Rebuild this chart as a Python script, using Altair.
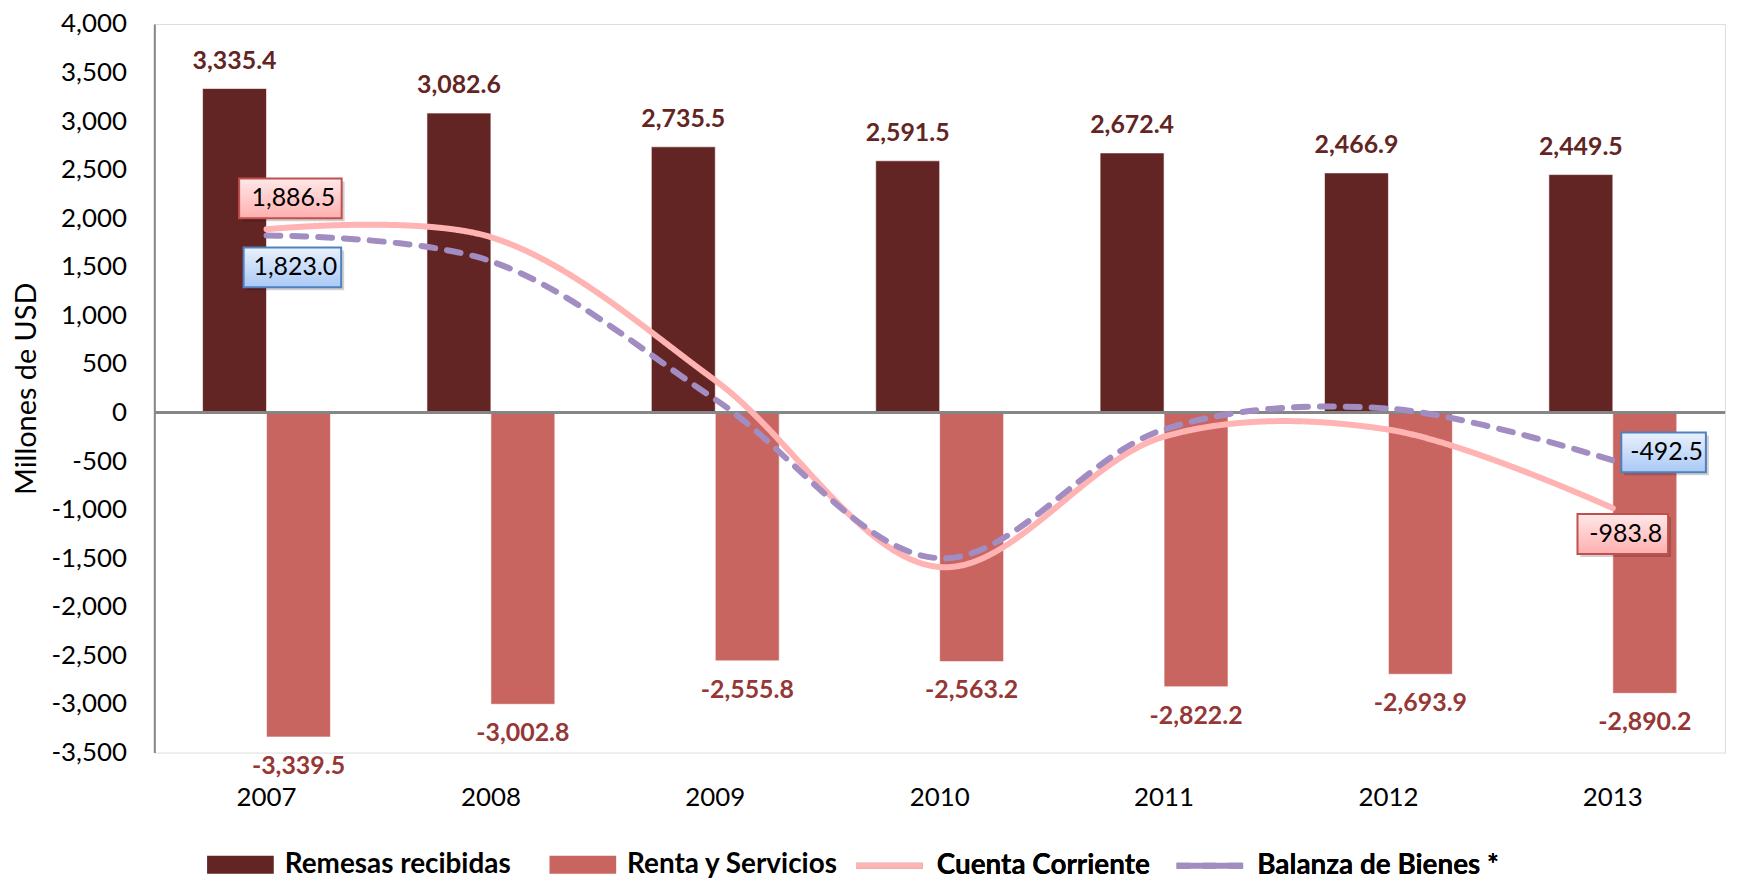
import altair as alt
import pandas as pd

FONT = "Lato"

years = ["2007", "2008", "2009", "2010", "2011", "2012", "2013"]
remesas = [3335.4, 3082.6, 2735.5, 2591.5, 2672.4, 2466.9, 2449.5]
renta = [-3339.5, -3002.8, -2555.8, -2563.2, -2822.2, -2693.9, -2890.2]
cuenta = [1886.5, 1805.0, 330.0, -1590.0, -248.0, -176.0, -983.8]
balanza = [1823.0, 1558.0, 135.0, -1500.0, -173.0, 41.0, -492.5]

bar_series = ["Remesas recibidas", "Renta y Servicios"]
line_series = ["Cuenta Corriente", "Balanza de Bienes *"]
bar_colors = ["#632523", "#C86561"]
bar_label_colors = ["#632523", "#953735"]
line_colors = ["#FFB3B3", "#A18DC1"]
y_ticks = list(range(-3500, 4001, 500))

# labelled line points (series, year) and their box styles
ann_series = ["Cuenta Corriente", "Balanza de Bienes *", "Balanza de Bienes *", "Cuenta Corriente"]
ann_years = ["2007", "2007", "2013", "2013"]
ann_dx = [24, 26, 51, 10]
ann_dy = [-31, 32, -8, 26]
ann_w = [103, 98, 85, 91]


def fmt(v):
    return f"{v:,.1f}"


bars = pd.DataFrame({
    "year": years * 2,
    "serie": [bar_series[0]] * len(years) + [bar_series[1]] * len(years),
    "value": remesas + renta,
})
bars["label"] = bars["value"].map(fmt)

lines = pd.DataFrame({
    "year": years * 2,
    "serie": [line_series[0]] * len(years) + [line_series[1]] * len(years),
    "value": cuenta + balanza,
})
lines["label"] = lines["value"].map(fmt)

x = alt.X(
    "year:N", title=None, sort=years,
    scale=alt.Scale(paddingInner=0.43, paddingOuter=0.215),
    axis=alt.Axis(labelAngle=0, domain=False, ticks=False, labelPadding=32,
                  labelFontSize=26, labelColor="#000000", labelFont=FONT),
)
y = alt.Y(
    "value:Q",
    scale=alt.Scale(domain=[-3500, 4000], nice=False, zero=False),
    axis=alt.Axis(
        values=y_ticks,
        labelExpr="replace(format(datum.value, ','), '\u2212', '-')",
        title="Millones de USD", titleX=-128, titleY=366, titleBaseline="middle",
        titleFontSize=29, titleFontWeight="normal", titleFont=FONT, titleColor="#000000",
        grid=False, ticks=False, domainColor="#868686", domainWidth=2,
        labelPadding=28, labelFontSize=26, labelFont=FONT, labelColor="#000000",
    ),
)
xoff = alt.XOffset("serie:N", sort=bar_series,
                   scale=alt.Scale(domain=bar_series, paddingInner=0, paddingOuter=0))

bar_legend = alt.Legend(
    orient="none", legendX=53, legendY=811, direction="horizontal", title=None,
    symbolType="M-1,-0.27L1,-0.27L1,0.27L-1,0.27Z", symbolSize=4489, symbolStrokeWidth=0,
    labelFontSize=28, labelFontWeight="bold", labelFont=FONT, labelColor="#000000",
    columnPadding=38, labelOffset=11, labelLimit=0,
)
line_legend = alt.Legend(
    orient="none", legendX=702, legendY=809, direction="horizontal", title=None,
    symbolType="stroke", symbolSize=4489, symbolStrokeWidth=6,
    labelFontSize=28, labelFontWeight="bold", labelFont=FONT, labelColor="#000000",
    columnPadding=14, labelOffset=11, labelLimit=0,
)

bar_layer = alt.Chart(bars).mark_bar(stroke="#ffffff", strokeWidth=1, strokeOpacity=0.6).encode(
    x=x, xOffset=xoff, y=y,
    fill=alt.Fill("serie:N", sort=bar_series,
                  scale=alt.Scale(domain=bar_series, range=bar_colors), legend=bar_legend),
)

zero_rule = alt.Chart(bars).mark_rule(color="#868686", strokeWidth=2).encode(
    y=alt.datum(0)
)

top_labels = alt.Chart(bars).transform_filter(
    alt.datum.serie == bar_series[0]
).mark_text(baseline="middle", dy=-28, fontSize=25, fontWeight="bold",
            font=FONT, color=bar_label_colors[0]).encode(
    x=x, xOffset=xoff, y=y, text="label:N"
)
bottom_labels = alt.Chart(bars).transform_filter(
    alt.datum.serie == bar_series[1]
).mark_text(baseline="middle", dy=29, fontSize=25, fontWeight="bold",
            font=FONT, color=bar_label_colors[1]).encode(
    x=x, xOffset=xoff, y=y, text="label:N"
)

line_layer = alt.Chart(lines).mark_line(
    interpolate="catmull-rom", strokeWidth=6, strokeCap="round"
).encode(
    x=x, y=y,
    stroke=alt.Stroke("serie:N", sort=line_series,
                      scale=alt.Scale(domain=line_series, range=line_colors), legend=line_legend),
    strokeDash=alt.StrokeDash("serie:N", sort=line_series,
                              scale=alt.Scale(domain=line_series, range=[[1, 0], [14, 12]]),
                              legend=line_legend),
    order=alt.Order("serie:N", sort="descending"),
)

pink_grad = alt.Gradient(gradient="linear", x1=0, y1=0, x2=0, y2=1,
                         stops=[alt.GradientStop(color="#FFE8E8", offset=0),
                                alt.GradientStop(color="#FFAFAF", offset=1)])
blue_grad = alt.Gradient(gradient="linear", x1=0, y1=0, x2=0, y2=1,
                         stops=[alt.GradientStop(color="#EAF1FD", offset=0),
                                alt.GradientStop(color="#A9C9F5", offset=1)])

ann_layers = []
for s, yr, dx, dy, w in zip(ann_series, ann_years, ann_dx, ann_dy, ann_w):
    is_pink = s == line_series[0]
    base = alt.Chart(lines).transform_filter(
        (alt.datum.serie == s) & (alt.datum.year == yr)
    )
    shadow = base.mark_rect(width=w, height=40, xOffset=dx + 3, yOffset=dy + 3,
                            fill="#000000", opacity=0.18).encode(x=x, y=y)
    box = base.mark_rect(width=w, height=40, xOffset=dx, yOffset=dy,
                         fill=pink_grad if is_pink else blue_grad,
                         stroke="#C0504D" if is_pink else "#4F81BD", strokeWidth=2).encode(x=x, y=y)
    txt = base.mark_text(xOffset=dx + 3, yOffset=dy, baseline="middle", align="center",
                         fontSize=25, font=FONT, color="#000000").encode(x=x, y=y, text="label:N")
    ann_layers += [shadow, box, txt]

chart = alt.layer(
    bar_layer, zero_rule, top_labels, bottom_labels, line_layer, *ann_layers
).resolve_scale(
    fill="independent", stroke="independent"
).properties(
    width=1578, height=732,
    autosize=alt.AutoSizeParams(type="none"),
    padding={"left": 147, "top": 14, "right": 4, "bottom": 128},
).configure_view(stroke=None).configure(font=FONT)

chart.save("out.html", embed_options={"renderer": "svg", "actions": False})
